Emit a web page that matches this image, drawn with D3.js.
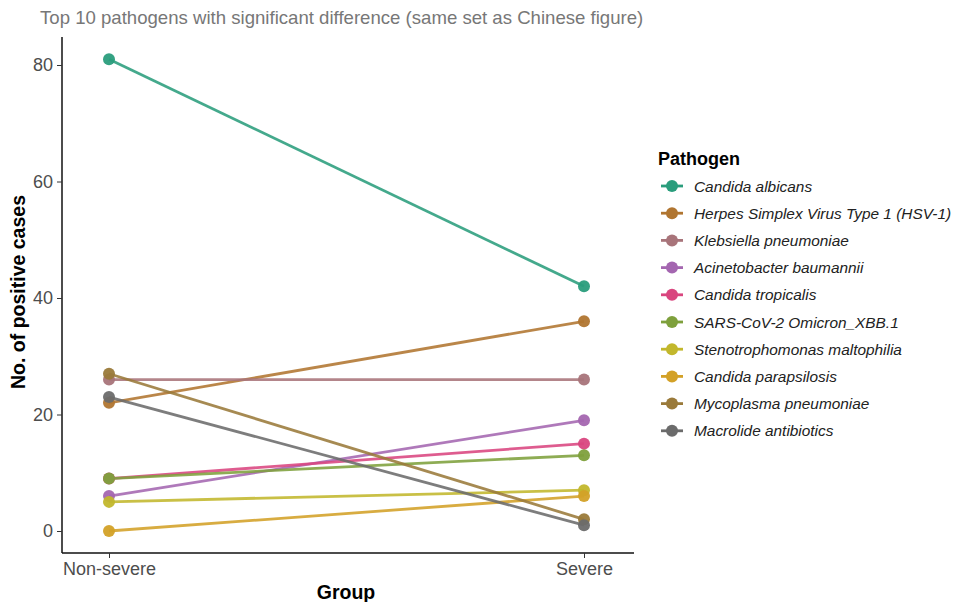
<!DOCTYPE html>
<html>
<head>
<meta charset="utf-8">
<script src="https://cdn.jsdelivr.net/npm/d3@7"></script>
<style>
body { margin: 0; background: #fff; }
text { font-family: "Liberation Sans", Arial, sans-serif; }
</style>
</head>
<body>
<div id="chart"></div>
<script>
const groups = ['Non-severe', 'Severe']
const pathogens = ['Candida albicans', 'Herpes Simplex Virus Type 1 (HSV-1)', 'Klebsiella pneumoniae',
	'Acinetobacter baumannii', 'Candida tropicalis', 'SARS-CoV-2 Omicron_XBB.1',
	'Stenotrophomonas maltophilia', 'Candida parapsilosis', 'Mycoplasma pneumoniae', 'Macrolide antibiotics']
const nonSevere = [81, 22, 26, 6, 9, 9, 5, 0, 27, 23]
const severe = [42, 36, 26, 19, 15, 13, 7, 6, 2, 1]
const colors = ['#2a9d7c', '#b07530', '#a8747a', '#a466b0', '#d9467f', '#7ea03c', '#c2b72c', '#d3a127', '#9a7a3a', '#6b6b6b']
const yTicks = [0, 20, 40, 60, 80]

const width = 956, height = 602
const margin = { top: 37, left: 62, right: 326, bottom: 49 }

let svg = d3.select('#chart')
.append('svg')
.attr('width', width)
.attr('height', height)

let xScale = d3.scalePoint()
.domain(groups)
.range([109, 584])

let yScale = d3.scaleLinear()
.domain([0, 80])
.range([531, 65])

let data = pathogens.map((p, i) => ({ name: p, color: colors[i], vals: [nonSevere[i], severe[i]] }))

// title
svg.append('text')
.attr('x', 40).attr('y', 24)
.style('font-size', '18.6px')
.style('fill', '#777')
.text('Top 10 pathogens with significant difference (same set as Chinese figure)')

// axes
let yAxis = svg.append('g')
.attr('transform', `translate(${margin.left},0)`)
.call(d3.axisLeft(yScale).tickValues(yTicks).tickSize(5).tickPadding(4))
yAxis.select('.domain').attr('d', `M0,${margin.top}V${height - margin.bottom}`).attr('stroke', '#111').attr('stroke-width', 1.5)

let xAxis = svg.append('g')
.attr('transform', `translate(0,${height - margin.bottom})`)
.call(d3.axisBottom(xScale).tickSize(5).tickPadding(4))
xAxis.select('.domain').attr('d', `M${margin.left},0H${width - margin.right + 4}`).attr('stroke', '#111').attr('stroke-width', 1.5)

svg.selectAll('.tick text').style('font-size', '18px').style('fill', '#4d4d4d')
svg.selectAll('.tick line').attr('stroke', '#333')

// axis titles
svg.append('text')
.attr('x', 346).attr('y', 599)
.attr('text-anchor', 'middle')
.style('font-size', '19.5px').style('font-weight', 'bold')
.text('Group')

svg.append('text')
.attr('transform', 'translate(25,292) rotate(-90)')
.attr('text-anchor', 'middle')
.style('font-size', '19.5px').style('font-weight', 'bold')
.text('No. of positive cases')

// lines + points
let lineFunc = d3.line()
.x((d, i) => xScale(groups[i]))
.y(d => yScale(d))

svg.selectAll('.plines')
.data(data)
.join('path')
.attr('class', 'plines')
.attr('d', d => lineFunc(d.vals))
.attr('fill', 'none')
.attr('stroke', d => d.color)
.attr('stroke-width', 2.8)
.attr('opacity', 0.88)

data.forEach(d => {
	svg.selectAll(null)
	.data(d.vals)
	.join('circle')
	.attr('cx', (v, i) => xScale(groups[i]))
	.attr('cy', v => yScale(v))
	.attr('r', 6)
	.attr('fill', d.color)
	.attr('opacity', 0.95)
})

// legend
let legend = svg.append('g')
svg.append('text')
.attr('x', 658).attr('y', 165)
.style('font-size', '18px').style('font-weight', 'bold')
.text('Pathogen')

let item = legend.selectAll('g')
.data(data)
.join('g')
.attr('transform', (d, i) => `translate(0,${186 + i * 27.2})`)

item.append('line')
.attr('x1', 661).attr('x2', 683)
.attr('stroke', d => d.color)
.attr('stroke-width', 2.8)
item.append('circle')
.attr('cx', 672).attr('r', 6)
.attr('fill', d => d.color)
item.append('text')
.attr('x', 694).attr('y', 5.5)
.style('font-size', '15.4px').style('font-style', 'italic')
.style('fill', '#222')
.text(d => d.name)
</script>
</body>
</html>
